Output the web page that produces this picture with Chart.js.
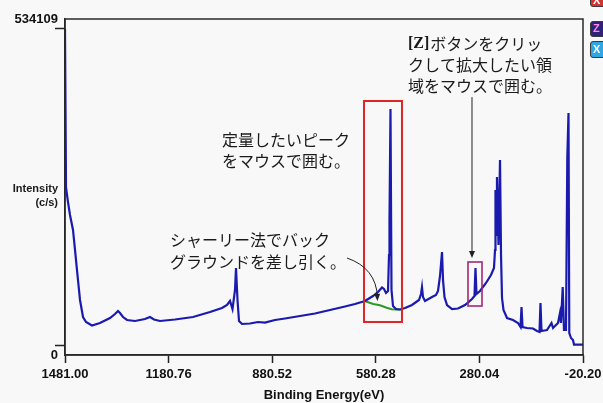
<!DOCTYPE html>
<html>
<head>
<meta charset="utf-8">
<script src="https://cdn.jsdelivr.net/npm/chart.js@4.4.1/dist/chart.umd.min.js"></script>
<style>
  html, body { margin: 0; padding: 0; background: #f8f8f8; overflow: hidden; }
  #wrap { position: relative; width: 603px; height: 403px; }
  canvas { display: block; }
  .btn { position: absolute; left: 590px; width: 22px; box-sizing: border-box;
         border: 1.5px solid #3a3a3a; border-radius: 3px;
         font: bold 11px "Liberation Sans", Arial, sans-serif; padding-left: 2px; }
</style>
</head>
<body>
<div id="wrap">
  <canvas id="c" width="603" height="403"></canvas>
  <div class="btn" style="top:-7px;height:14px;line-height:12px;background:#d63232;color:#fff">X</div>
  <div class="btn" style="top:21px;height:16px;line-height:13px;background:#2e2378;color:#ff8ae6">Z</div>
  <div class="btn" style="top:41px;height:17px;line-height:14px;background:#2ea6e8;color:#fff">X</div>
</div>
<script>
// XPS survey spectrum: binding energy (eV) against intensity (c/s)
const energies = [
  1481.0, 1478.1, 1473.2, 1466.5, 1457.8, 1452.0, 1447.1, 1441.9, 1437.5, 1428.8,
  1420.1, 1402.8, 1379.6, 1350.6, 1336.1, 1327.4, 1321.6, 1312.9, 1301.3, 1278.1,
  1249.2, 1234.7, 1223.1, 1205.7, 1162.2, 1110.0, 1060.8, 1026.0, 1011.5, 1002.8,
  995.6, 988.3, 985.4, 981.1, 976.7, 968.0, 944.9, 921.7, 901.4, 872.4,
  843.4, 800.0, 756.5, 713.0, 669.5, 640.6, 611.6, 588.4, 573.9, 562.3,
  556.5, 550.7, 544.9, 542.0, 540.6, 537.7, 534.8, 530.4, 521.7, 510.1,
  495.6, 475.4, 455.1, 449.3, 446.4, 443.5, 437.7, 417.4, 405.8, 400.0,
  394.2, 388.4, 385.5, 381.2, 373.9, 359.4, 342.1, 321.8, 301.5, 294.3,
  291.4, 288.5, 278.3, 260.9, 246.5, 237.8, 234.8, 233.4, 230.5, 229.1,
  224.7, 220.3, 217.4, 214.5, 210.2, 200.0, 182.7, 168.2, 160.9, 158.0,
  155.1, 142.1, 124.7, 113.1, 105.9, 103.0, 100.1, 84.2, 71.1, 66.7,
  52.2, 46.5, 43.6, 38.6, 34.9, 29.1, 25.3, 21.8, 19.5, 14.6,
  8.8, 5.9, -20.2
];
const counts = [
  534109, 267000, 245000, 219700, 194400, 160600, 131800, 101400, 76100, 47300,
  38900, 33000, 37200, 45600, 52400, 57500, 54100, 47300, 42300, 40600,
  43900, 47300, 43100, 40600, 43100, 47300, 55800, 62500, 67600, 74400,
  60800, 93000, 130100, 76100, 40600, 35500, 36300, 38900, 38000, 42300,
  44800, 49000, 53200, 59200, 65100, 69300, 74400, 82800, 89600, 97200,
  94700, 87900, 91300, 152100, 211300, 398900, 93000, 65900, 60800, 60000,
  62500, 67600, 76100, 86200, 98000, 81100, 74400, 81100, 84500, 91300,
  116600, 157200, 109900, 81100, 67600, 60800, 61700, 67600, 77700, 82800,
  130100, 86200, 91300, 104800, 118300, 130100, 160600, 262000, 185900, 284000,
  169000, 312700, 152100, 79400, 59200, 45600, 42300, 37200, 30400, 64200,
  30400, 28700, 27900, 23700, 22000, 71000, 23700, 25400, 37200, 28700,
  37200, 54100, 37200, 98000, 25400, 25400, 316100, 392100, 20300, 11800,
  8500, 800, 800
];
// Shirley background under the O 1s region
const shirleyEnergies = [611.6, 606.7, 587.5, 568.1, 548.8, 534.2, 520.0, 504.4];
const shirleyCounts   = [74400, 73200, 69300, 67100, 63000, 60300, 60200, 60000];

const xTickValues = [1481.00, 1180.76, 880.52, 580.28, 280.04, -20.20];
const yMaxCount = 534109;
const yTickValues = [0, yMaxCount];
const yLow = -16900, yHigh = 551000;   // frame margins around 0 and the maximum

// Selection boxes and arrows, in data units
const peakBox = { e1: 614.5, e2: 504.4, i1: 412400, i2: 38900, color: '#e02525', width: 2 };
const zoomBox = { e1: 313.1, e2: 272.5, i1: 140300, i2: 65900, color: '#a0287a', width: 1.6 };
const zoomArrow = { e: 301.5, from: 419000, to: 147000 };
const shirleyArrow = { p0: [663.7, 147000], p1: [579.7, 130100], p2: [575.4, 74400] };

const jp = '16px "Noto Sans CJK JP", sans-serif';
const notes = [
  { x: 222, y: 140, text: '定量したいピーク' },
  { x: 222, y: 161, text: 'をマウスで囲む。' },
  { x: 170, y: 240, text: 'シャーリー法でバック' },
  { x: 170, y: 262, text: 'グラウンドを差し引く。' },
  { x: 408, y: 44, text: 'ボタンをクリッ', prefix: '[Z]' },
  { x: 408, y: 65, text: 'クして拡大したい領' },
  { x: 408, y: 86, text: '域をマウスで囲む。' }
];

function arrowHead(ctx, x, y, angle) {
  const len = 7, half = 3;
  ctx.save();
  ctx.translate(x, y);
  ctx.rotate(angle);
  ctx.beginPath();
  ctx.moveTo(0, 0);
  ctx.lineTo(-len, -half);
  ctx.lineTo(-len, half);
  ctx.closePath();
  ctx.fill();
  ctx.restore();
}

const overlay = {
  id: 'overlay',
  afterDatasetsDraw(chart) {
    const { ctx, scales: { x, y } } = chart;
    ctx.save();
    [peakBox, zoomBox].forEach(b => {
      const l = x.getPixelForValue(b.e1), r = x.getPixelForValue(b.e2);
      const t = y.getPixelForValue(b.i1), bt = y.getPixelForValue(b.i2);
      ctx.strokeStyle = b.color;
      ctx.lineWidth = b.width;
      ctx.strokeRect(l, t, r - l, bt - t);
    });
    ctx.strokeStyle = '#222';
    ctx.fillStyle = '#222';
    ctx.lineWidth = 1;
    // arrow down to the zoom box
    const ax = x.getPixelForValue(zoomArrow.e);
    const ay0 = y.getPixelForValue(zoomArrow.from), ay1 = y.getPixelForValue(zoomArrow.to);
    ctx.beginPath(); ctx.moveTo(ax, ay0); ctx.lineTo(ax, ay1 - 5); ctx.stroke();
    arrowHead(ctx, ax, ay1, Math.PI / 2);
    // curved arrow to the background line
    const P = shirleyArrow;
    const p0 = [x.getPixelForValue(P.p0[0]), y.getPixelForValue(P.p0[1])];
    const p1 = [x.getPixelForValue(P.p1[0]), y.getPixelForValue(P.p1[1])];
    const p2 = [x.getPixelForValue(P.p2[0]), y.getPixelForValue(P.p2[1])];
    ctx.beginPath(); ctx.moveTo(p0[0], p0[1]);
    ctx.quadraticCurveTo(p1[0], p1[1], p2[0], p2[1] - 4); ctx.stroke();
    arrowHead(ctx, p2[0], p2[1], Math.atan2(p2[1] - p1[1], p2[0] - p1[0]));
    ctx.restore();
  },
  afterDraw(chart) {
    const { ctx, chartArea: a } = chart;
    ctx.save();
    ctx.strokeStyle = '#2a2a2a';
    ctx.lineWidth = 1.5;
    ctx.strokeRect(a.left, a.top, a.right - a.left, a.bottom - a.top);
    ctx.fillStyle = '#1a1a1a';
    ctx.textBaseline = 'middle';
    ctx.textAlign = 'left';
    notes.forEach(n => {
      let px = n.x;
      if (n.prefix) {
        ctx.font = 'bold 16px "Liberation Serif", serif';
        ctx.fillText(n.prefix, px, n.y);
        px += ctx.measureText(n.prefix).width + 1;
      }
      ctx.font = jp;
      ctx.fillText(n.text, px, n.y);
    });
    // y-axis caption
    ctx.font = 'bold 11px "Liberation Sans", Arial, sans-serif';
    ctx.textAlign = 'right';
    ctx.fillText('Intensity', 58, 189);
    ctx.fillText('(c/s)', 58, 203);
    ctx.restore();
  }
};

Chart.defaults.font.family = '"Liberation Sans", Arial, sans-serif';
Chart.defaults.color = '#111';

new Chart(document.getElementById('c'), {
  type: 'line',
  data: {
    datasets: [
      {
        data: energies.map((e, i) => ({ x: e, y: counts[i] })),
        borderColor: '#1a1aae',
        borderWidth: 2.2,
        pointRadius: 0,
        tension: 0
      },
      {
        data: shirleyEnergies.map((e, i) => ({ x: e, y: shirleyCounts[i] })),
        borderColor: '#2a9a2a',
        borderWidth: 2,
        pointRadius: 0,
        tension: 0
      }
    ]
  },
  options: {
    responsive: false,
    animation: false,
    devicePixelRatio: 1,
    layout: { padding: { top: 19, right: 20, left: 0, bottom: 0 } },
    plugins: { legend: { display: false }, tooltip: { enabled: false } },
    scales: {
      x: {
        type: 'linear',
        reverse: true,
        min: -20.2,
        max: 1481,
        afterBuildTicks: s => { s.ticks = xTickValues.map(v => ({ value: v })); },
        afterFit: s => { s.height = 48; s.paddingLeft = 0; s.paddingRight = 0; },
        ticks: {
          autoSkip: false, maxRotation: 0, padding: 4,
          font: { size: 13, weight: 'bold' },
          callback: v => v.toFixed(2)
        },
        grid: { drawOnChartArea: false, tickLength: 8, tickColor: '#222', tickWidth: 1.5 },
        border: { color: '#222', width: 1.5 },
        title: {
          display: true, text: 'Binding Energy(eV)',
          font: { size: 13, weight: 'bold' }, padding: { top: 0, bottom: 0 }
        }
      },
      y: {
        type: 'linear',
        min: yLow,
        max: yHigh,
        afterBuildTicks: s => {
          s.ticks = [yLow, ...yTickValues, yHigh].map(v => ({ value: v }));
        },
        afterFit: s => { s.width = 65; s.paddingTop = 0; s.paddingBottom = 0; },
        ticks: {
          autoSkip: false, padding: -3,
          font: { size: 13, weight: 'bold' },
          callback: v => v === yLow ? String(yTickValues[0]) : (v === yHigh ? String(yMaxCount) : '')
        },
        grid: {
          drawOnChartArea: false, tickLength: 10, tickWidth: 1.5,
          tickColor: c => (c.tick && yTickValues.includes(c.tick.value)) ? '#222' : 'rgba(0,0,0,0)'
        },
        border: { color: '#222', width: 1.5 }
      }
    }
  },
  plugins: [overlay]
});
</script>
</body>
</html>
